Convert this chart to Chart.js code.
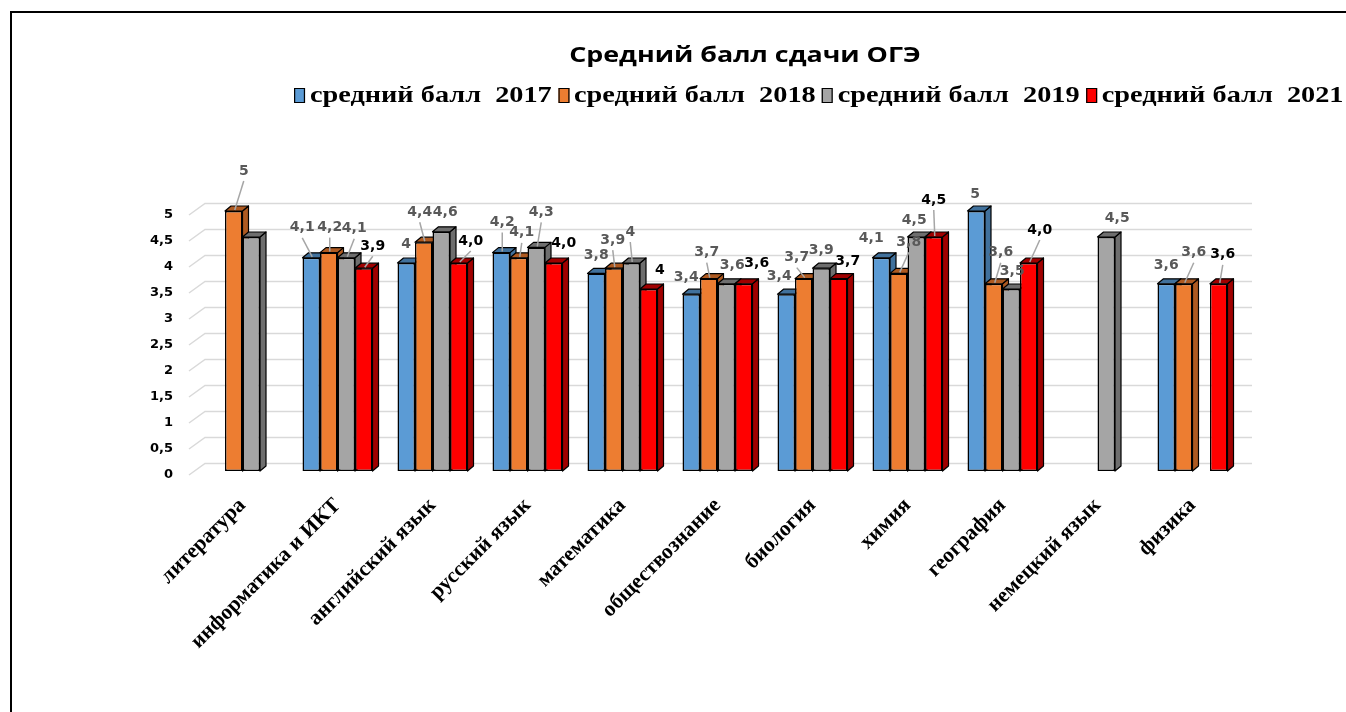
<!DOCTYPE html>
<html lang="ru">
<head>
<meta charset="utf-8">
<title>Средний балл сдачи ОГЭ</title>
<script src="https://cdn.jsdelivr.net/npm/chart.js@4.4.1/dist/chart.umd.min.js"></script>
<style>
  html, body { margin: 0; padding: 0; background: #fff; width: 1346px; height: 712px; overflow: hidden; }
  #frame { position: absolute; left: 10px; top: 11px; width: 1420px; height: 800px; border: 2px solid #000; }
  #chart { position: absolute; left: 0; top: 0; }
  #title { position: absolute; left: 445px; top: 38px; width: 600px; text-align: center;
           font: bold 22px "Open Sans", sans-serif; color: #000; transform: scaleX(1.22); }
  #legend { position: absolute; left: 294px; top: 82px; display: flex; white-space: pre;
            font: bold 23px "Liberation Serif", serif; color: #000;
            transform: scaleX(1.23); transform-origin: 0 0; }
  #legend .item { display: flex; align-items: center; margin-right: 5px; }
  #legend .box { width: 7px; height: 13px; border: 1px solid #000; margin-right: 4px; }
</style>
</head>
<body>
<div id="frame"></div>
<canvas id="chart" width="1346" height="712"></canvas>
<div id="title">Средний балл сдачи ОГЭ</div>
<div id="legend"></div>
<script>
const categories = ['литература', 'информатика и ИКТ', 'английский язык', 'русский язык',
  'математика', 'обществознание', 'биология', 'химия', 'география', 'немецкий язык', 'физика'];

const score2017 = [null, 4.1, 4, 4.2, 3.8, 3.4, 3.4, 4.1, 5, null, 3.6];
const score2018 = [5, 4.2, 4.4, 4.1, 3.9, 3.7, 3.7, 3.8, 3.6, null, 3.6];
const score2019 = [4.5, 4.1, 4.6, 4.3, 4, 3.6, 3.9, 4.5, 3.5, 4.5, null];
const score2021 = [null, 3.9, 4.0, 4.0, 3.5, 3.6, 3.7, 4.5, 4.0, null, 3.6];

// подписи данных как на исходной диаграмме
const labels2017 = [null, '4,1', '4', '4,2', '3,8', '3,4', '3,4', '4,1', '5', null, '3,6'];
const labels2018 = ['5', '4,2', '4,4', '4,1', '3,9', '3,7', '3,7', '3,8', '3,6', null, '3,6'];
const labels2019 = [null, '4,1', '4,6', '4,3', '4', '3,6', '3,9', '4,5', '3,5', '4,5', null];
const labels2021 = [null, '3,9', '4,0', '4,0', '4', '3,6', '3,7', '4,5', '4,0', null, '3,6'];

// сдвиг подписей относительно верха столбца (dx, dy)
const labelShift = [
  [null, [-9, -30], [0, -19], [1, -30], [0, -18], [-5, -17], [-7, -18], [-10, -19], [-1, -17], null, [0, -18]],
  [[10, -40], [1, -25], [-4, -30], [3, -25], [-1, -28], [-2, -26], [-7, -21], [10, -31], [7, -31], null, [10, -31]],
  [null, [8, -29], [4, -19], [5, -35], [-1, -31], [6, -18], [0, -18], [-2, -17], [1, -18], [11, -19], null],
  [null, [9, -22], [12, -22], [10, -20], [11, -19], [13, -20], [9, -17], [0, -37], [11, -33], null, [4, -29]]
];

const frontColors = ['#5b9bd5', '#ed7d31', '#a5a5a5', '#ff0000'];
const sideColors = ['#41719c', '#ae5a21', '#6e6e6e', '#a00000'];
const labelColors = ['#595959', '#595959', '#595959', '#000000'];
const depthX = 6, depthY = 5;

const bars3d = {
  id: 'bars3d',
  beforeDatasetsDraw(chart) {
    const ctx = chart.ctx;
    const ys = chart.scales.y;
    const area = chart.chartArea;
    ctx.save();
    // задняя стенка и линии сетки
    ctx.strokeStyle = '#d9d9d9';
    ctx.lineWidth = 1.5;
    ys.ticks.forEach(t => {
      const py = ys.getPixelForValue(t.value);
      ctx.beginPath();
      ctx.moveTo(area.left - 6, py + 4);
      ctx.lineTo(area.left + 10, py - 7.5);
      ctx.lineTo(area.right + 12, py - 7.5);
      ctx.stroke();
    });
    // боковые и верхние грани
    ctx.lineWidth = 1.2;
    ctx.lineJoin = 'round';
    ctx.strokeStyle = '#000';
    chart.data.datasets.forEach((ds, i) => {
      const meta = chart.getDatasetMeta(i);
      meta.data.forEach((el, j) => {
        if (ds.data[j] == null) return;
        const p = el.getProps(['x', 'y', 'base', 'width'], true);
        const l = p.x - p.width / 2, r = p.x + p.width / 2;
        ctx.fillStyle = sideColors[i];
        ctx.beginPath();
        ctx.moveTo(r, p.y);
        ctx.lineTo(r + depthX, p.y - depthY);
        ctx.lineTo(r + depthX, p.base - depthY);
        ctx.lineTo(r, p.base);
        ctx.closePath();
        ctx.fill();
        ctx.stroke();
        ctx.beginPath();
        ctx.moveTo(l, p.y);
        ctx.lineTo(l + depthX, p.y - depthY);
        ctx.lineTo(r + depthX, p.y - depthY);
        ctx.lineTo(r, p.y);
        ctx.closePath();
        ctx.fill();
        ctx.stroke();
      });
    });
    ctx.restore();
  },
  afterDatasetsDraw(chart) {
    const ctx = chart.ctx;
    const texts = [labels2017, labels2018, labels2019, labels2021];
    ctx.save();
    ctx.font = 'bold 14px "DejaVu Sans"';
    ctx.textAlign = 'center';
    ctx.textBaseline = 'middle';
    chart.data.datasets.forEach((ds, i) => {
      const meta = chart.getDatasetMeta(i);
      meta.data.forEach((el, j) => {
        const txt = texts[i][j];
        const sh = labelShift[i][j];
        if (ds.data[j] == null || !txt || !sh) return;
        const lx = el.x + sh[0], ly = el.y + sh[1];
        if (sh[1] <= -21) {
          ctx.strokeStyle = '#a6a6a6';
          ctx.lineWidth = 1.5;
          ctx.beginPath();
          ctx.moveTo(lx, ly + 10);
          ctx.lineTo(el.x + 1, el.y - 1);
          ctx.stroke();
        }
        ctx.fillStyle = labelColors[i];
        ctx.fillText(txt, lx, ly);
      });
    });
    ctx.restore();
  }
};

const chart = new Chart(document.getElementById('chart'), {
  type: 'bar',
  data: {
    labels: categories,
    datasets: [
      { label: 'средний балл  2017', data: score2017, backgroundColor: frontColors[0] },
      { label: 'средний балл  2018', data: score2018, backgroundColor: frontColors[1] },
      { label: 'средний балл  2019', data: score2019, backgroundColor: frontColors[2] },
      { label: 'средний балл  2021', data: score2021, backgroundColor: frontColors[3] }
    ]
  },
  options: {
    responsive: false,
    animation: false,
    devicePixelRatio: 1,
    layout: { padding: { top: 211, right: 106, bottom: 0, left: 0 } },
    datasets: {
      bar: { categoryPercentage: 0.737, barPercentage: 1, borderColor: '#000', borderWidth: 1.5, borderSkipped: false }
    },
    plugins: {
      legend: { display: false },
      title: { display: false },
      tooltip: { enabled: false }
    },
    scales: {
      x: {
        grid: { display: false },
        border: { display: false },
        ticks: {
          autoSkip: false, minRotation: 45, maxRotation: 45, padding: 14, color: '#000',
          font: { family: 'Liberation Serif', weight: 'bold', size: 21.5 }
        },
        afterFit(s) { s.height = 241; }
      },
      y: {
        min: 0, max: 5,
        grid: { display: false },
        border: { display: false },
        ticks: {
          stepSize: 0.5, padding: 14, labelOffset: 4, color: '#000',
          font: { family: 'DejaVu Sans', weight: 'bold', size: 13 },
          callback: v => String(v).replace('.', ',')
        },
        afterFit(s) { s.width = 195; }
      }
    }
  },
  plugins: [bars3d]
});

// легенда
const legend = document.getElementById('legend');
chart.data.datasets.forEach(ds => {
  const item = document.createElement('span');
  item.className = 'item';
  const box = document.createElement('span');
  box.className = 'box';
  box.style.background = ds.backgroundColor;
  item.appendChild(box);
  item.appendChild(document.createTextNode(ds.label));
  legend.appendChild(item);
});
</script>
</body>
</html>
